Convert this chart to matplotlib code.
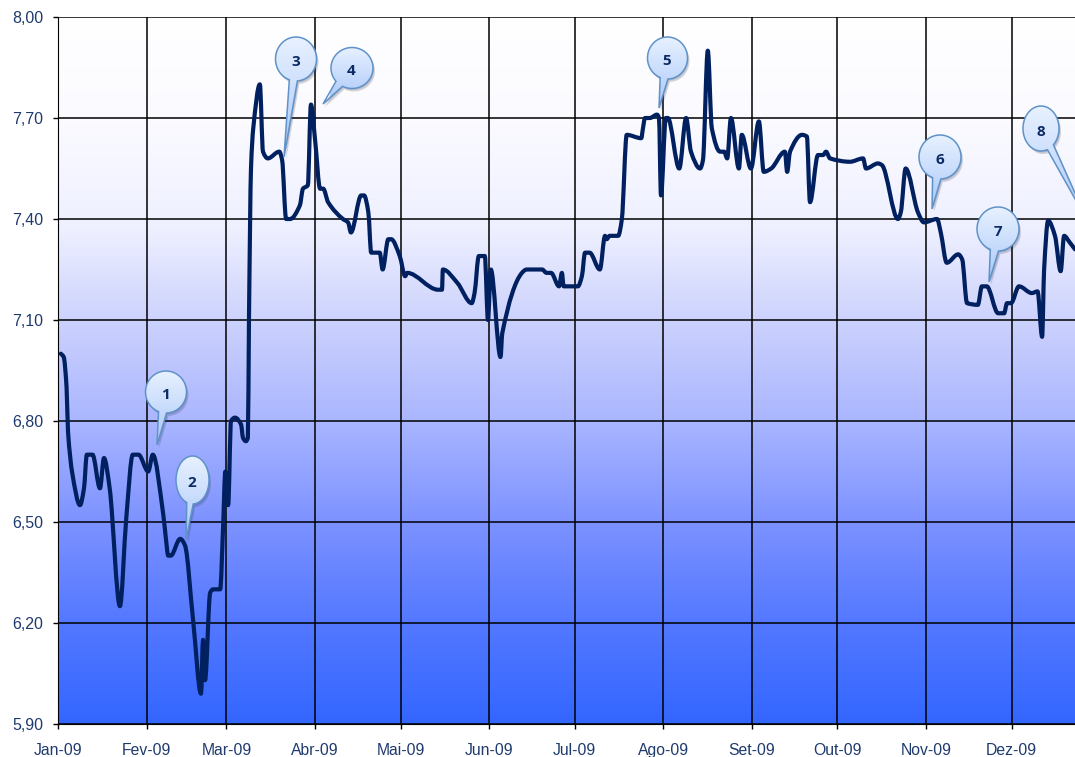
#!/usr/bin/env python3
# -*- coding: utf-8 -*-
import numpy as np
import matplotlib
matplotlib.use('Agg')
import matplotlib.pyplot as plt
import matplotlib.dates as mdates
from matplotlib.colors import LinearSegmentedColormap
from matplotlib.patches import Polygon, PathPatch
from matplotlib.path import Path

plt.rcParams['font.family'] = ['Liberation Sans', 'DejaVu Sans']

#%% data: days since 1 Jan 2009, and the rate
days = [1, 2, 3, 3.5, 5, 7.7, 9.1, 10.1, 12.1, 14.7, 16.1, 18.1, 21.7, 23.9, 26.2, 28.2, 31.6, 33.2,
        36.9, 37.8, 38.6, 39.5, 42.8, 44.5, 47.3, 50.1, 50.8, 51.5, 53.3, 54.3, 56.8, 57.8,
        58.6, 59.6, 60.6, 62, 64.1, 64.8, 65.8, 66.5, 66.9, 67.6, 68.4, 70.7, 71.8, 73.5,
        77.5, 78.5, 79.9, 81.3, 84.7, 85.8, 87.5, 88.6, 90.1, 91.8, 92.9, 94.6, 99.8, 101.6, 102.6,
        106.2, 107.2, 108.7, 109.7, 112.7, 113.7, 115.7, 116.7, 119.7, 121.6, 122.3, 133.1, 134.5, 134.8,
        139.9, 144.9, 145.9, 147.4, 149.5, 150.6, 151.6, 155, 155.6, 162.5, 164.2, 169.6, 171.1,
        172.7, 175.5, 176.5, 177.1, 182.1, 183.5, 184.6, 186.2, 189.8, 191.6, 192.2, 193.2, 196.2,
        197.5, 199.2, 204.3, 204.9, 205.6, 207.3, 209.8, 210.5, 211.2, 212.9, 213.6, 217.6,
        220, 221.7, 224.9, 225.9, 227.6, 229, 231.9, 233.3, 234.4, 235.7, 238.5, 239.5,
        242.7, 245.5, 247.2, 249.8, 254.6, 255.4, 256.4, 260.6, 262.3, 263.4, 266.2, 268,
        269, 270.4, 277.4, 282, 283, 287.2, 288.6, 294.2, 295.2, 296.9, 301.2, 303.3,
        307.9, 309.2, 311.3, 315.3, 316.7, 318.4, 322.2, 323.6, 325.3, 329.3, 331.4, 332.4,
        333.8, 336.6, 341.1, 343.1, 344.7, 345.4, 346.8, 349.2, 351.2, 352.4, 354.4, 356.2]
rate = [7.00, 6.99, 6.90, 6.77, 6.645, 6.55, 6.60, 6.70, 6.70, 6.60, 6.69, 6.60, 6.25, 6.51,
        6.70, 6.70, 6.65, 6.70, 6.52, 6.45, 6.40, 6.40, 6.45, 6.43, 6.21, 5.99, 6.15, 6.03,
        6.29, 6.30, 6.30, 6.48, 6.65, 6.55, 6.80, 6.81, 6.79, 6.75, 6.74, 6.75, 7.11, 7.55,
        7.67, 7.80, 7.60, 7.58, 7.60, 7.575, 7.40, 7.40, 7.44, 7.49, 7.50, 7.74, 7.63, 7.49,
        7.49, 7.45, 7.40, 7.39, 7.36, 7.47, 7.47, 7.42, 7.30, 7.30, 7.25, 7.34, 7.34, 7.29,
        7.23, 7.24, 7.19, 7.19, 7.25, 7.21, 7.15, 7.18, 7.29, 7.29, 7.10, 7.25, 6.99, 7.06,
        7.24, 7.25, 7.25, 7.24, 7.24, 7.20, 7.24, 7.20, 7.20, 7.23, 7.30, 7.30, 7.25, 7.35,
        7.34, 7.35, 7.35, 7.40, 7.65, 7.64, 7.67, 7.70, 7.70, 7.71, 7.70, 7.47, 7.70, 7.70,
        7.55, 7.70, 7.60, 7.55, 7.575, 7.90, 7.67, 7.60, 7.60, 7.58, 7.70, 7.55, 7.65, 7.55,
        7.69, 7.54, 7.55, 7.60, 7.54, 7.60, 7.65, 7.645, 7.45, 7.59, 7.59, 7.60, 7.58, 7.57,
        7.58, 7.55, 7.565, 7.56, 7.40, 7.42, 7.55, 7.42, 7.39, 7.40, 7.36, 7.27, 7.295, 7.28,
        7.15, 7.145, 7.20, 7.20, 7.12, 7.12, 7.15, 7.15, 7.20, 7.18, 7.185, 7.05, 7.25, 7.395,
        7.35, 7.245, 7.35, 7.33, 7.31]
month_labels = ['Jan-09', 'Fev-09', 'Mar-09', 'Abr-09', 'Mai-09', 'Jun-09',
                'Jul-09', 'Ago-09', 'Set-09', 'Out-09', 'Nov-09', 'Dez-09']
y_ticks = [5.9, 6.2, 6.5, 6.8, 7.1, 7.4, 7.7, 8.0]
y_labels = ['5,90', '6,20', '6,50', '6,80', '7,10', '7,40', '7,70', '8,00']

# callouts, in picture pixels: label, centre x, centre y, radius x, radius y, tip x, tip y
callouts = [('1', 166, 392, 20.5, 21, 157, 445),
            ('2', 192.5, 480, 16.5, 24, 186, 540),
            ('3', 296, 59, 20.5, 22, 284, 157),
            ('4', 352, 68, 21, 20.5, 323, 104),
            ('5', 667.5, 58, 20, 21, 659, 108),
            ('6', 940, 157, 21, 22, 932, 209),
            ('7', 998, 229, 21, 22, 989, 282),
            ('8', 1041, 128.5, 18, 22.5, 1088, 222)]

W, H = 1075, 757
start = mdates.date2num(np.datetime64('2009-01-01'))
x = start + np.array(days)
y = np.array(rate)
month_pos = [mdates.date2num(np.datetime64('2009-%02d-01' % (m + 1))) for m in range(12)]


def smooth_path(x, y):
    # the original line is a smoothed one: beziers through every point, flat at the extremes
    h = np.diff(x)
    s = np.diff(y) / h
    m = np.zeros(len(x))
    for i in range(1, len(x) - 1):
        if s[i - 1] * s[i] > 0:
            m[i] = 2 * s[i - 1] * s[i] / (s[i - 1] + s[i])
    m[0], m[-1] = s[0], s[-1]
    verts = [(x[0], y[0])]
    codes = [Path.MOVETO]
    for i in range(len(h)):
        verts.append((x[i] + h[i] / 3, y[i] + m[i] * h[i] / 3))
        verts.append((x[i + 1] - h[i] / 3, y[i + 1] - m[i + 1] * h[i] / 3))
        verts.append((x[i + 1], y[i + 1]))
        codes += [Path.CURVE4] * 3
    return Path(verts, codes)


#%%
fig = plt.figure(figsize=(W / 100, H / 100), dpi=100)
ax = fig.add_axes([58 / W, 1 - 724 / H, (W - 58) / W, 707 / H])

background = LinearSegmentedColormap.from_list('background', [
    (0, '#ffffff'), (0.14, '#fbfbff'), (0.3, '#eef0ff'), (0.43, '#ccd2fd'),
    (0.57, '#aab6ff'), (0.71, '#7e93ff'), (0.85, '#5579ff'), (1, '#3366ff')], N=1024)
ax.imshow(np.linspace(0, 1, 707).reshape(-1, 1), cmap=background, aspect='auto',
          extent=[0, 1, 0, 1], transform=ax.transAxes, zorder=0)

for xp in month_pos:
    ax.axvline(xp, color='black', lw=1.1, zorder=1)
for yp in y_ticks:
    ax.axhline(yp, color='black', lw=1.1, zorder=1)

ax.add_patch(PathPatch(smooth_path(x, y), fc='none', ec='#002060', lw=3.0,
                       joinstyle='round', capstyle='round', zorder=3))

ax.set_xlim(start, start + (W - 58) / 2.855)
ax.set_ylim(5.9, 8.0)
ax.set_xticks(month_pos)
ax.set_xticklabels(month_labels)
ax.set_yticks(y_ticks)
ax.set_yticklabels(y_labels)
ax.tick_params(axis='x', length=3.5, width=1, pad=10, labelsize=11.3, labelcolor='#1f3a6e')
ax.tick_params(axis='y', length=3.5, width=1, pad=7, labelsize=11.5, labelcolor='#1f3a6e')
ax.spines['right'].set_visible(False)
ax.spines['top'].set_visible(False)

# overlay in picture pixels for the callouts
over = fig.add_axes([0, 0, 1, 1], facecolor='none')
over.axis('off')
bubble = LinearSegmentedColormap.from_list('bubble', ['#e8f1ff', '#c8dcfc', '#a8c6f7'])


def draw_callout(label, cx, cy, rx, ry, tx, ty):
    angle = np.arctan2((ty - cy) / ry, (tx - cx) / rx)
    spread = 0.2
    t = np.linspace(angle + spread, angle + 2 * np.pi - spread, 80)
    pts = np.column_stack([cx + rx * np.cos(t), cy + ry * np.sin(t)])
    pts = np.vstack([pts, [tx, ty]])
    over.add_patch(Polygon(pts + [2, 3], closed=True, fc='#303050', ec='none', alpha=0.2, zorder=4))
    over.add_patch(Polygon(pts + [1, 1.5], closed=True, fc='#303050', ec='none', alpha=0.16, zorder=4))
    fill = Polygon(pts, closed=True, fc='none', ec='none', zorder=5)
    over.add_patch(fill)
    over.add_patch(Polygon(pts, closed=True, fc='none', ec='#5f93c8', lw=1.1, zorder=6))
    im = over.imshow(np.linspace(0, 1, 100).reshape(-1, 1), cmap=bubble, aspect='auto',
                     extent=[cx - rx - 1, max(cx + rx, tx) + 1, max(cy + ry, ty) + 1, cy - ry - 1],
                     zorder=5)
    im.set_clip_path(fill)
    over.text(cx - 0.5, cy + 3, label, ha='center', va='center', fontsize=11, fontweight='bold',
              color='#0b2a66', family=['Open Sans', 'DejaVu Sans'], zorder=7)


for c in callouts:
    draw_callout(*c)
over.set_xlim(0, W)
over.set_ylim(H, 0)

fig.savefig('out.png', dpi=100)
